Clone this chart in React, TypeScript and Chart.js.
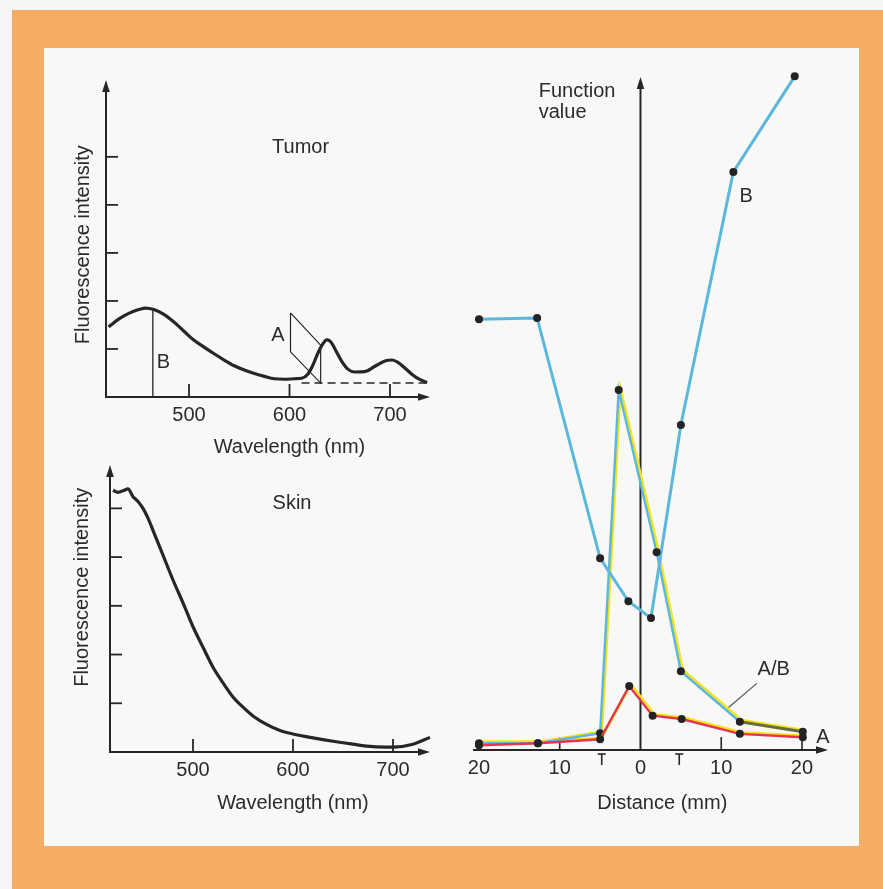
import React, { useEffect, useRef } from "react";
import { Chart, registerables } from "chart.js";

Chart.register(...registerables);

const FONT_FAMILY = "'Liberation Sans', Arial, Helvetica, sans-serif";
const FONT = `20px ${FONT_FAMILY}`;
const INK = "#262626";
const TEXT = "#2b2b2b";
const ORANGE = "#f5ac64";
const PAPER = "#f8f8f7";
const OUTER = "#f6f5f5";
const BLUE = "#5cb7dd";
const YELLOW = "#f2e31c";
const RED = "#e8334e";
const OLIVE = "#676d3e";
const DOT = "#232323";

// ---------- Tumor spectrum ----------
const tumorWavelength = [420, 430, 440, 450, 457, 465, 475, 485, 495, 505, 515, 525, 535, 545, 555, 565, 575, 585, 595, 605, 612, 618, 623, 628, 633, 637, 641, 646, 652, 658, 665, 675, 685, 695, 702, 708, 715, 722, 730, 737];
const tumorIntensity = [1.46, 1.62, 1.74, 1.82, 1.85, 1.82, 1.72, 1.56, 1.37, 1.18, 1.04, 0.9, 0.77, 0.65, 0.56, 0.49, 0.43, 0.38, 0.37, 0.38, 0.39, 0.47, 0.65, 0.9, 1.1, 1.19, 1.15, 0.97, 0.74, 0.58, 0.52, 0.53, 0.64, 0.75, 0.77, 0.72, 0.6, 0.47, 0.36, 0.3];
const tumorBaselineWavelength = [612, 737];
const tumorBaselineLevel = 0.29;
const tumorBWavelength = 464;
const tumorBHeight = 1.82;
const tumorAShapeWavelength = [601, 601, 631, 631, 601];
const tumorAShapeIntensity = [1.75, 0.94, 0.29, 1.08, 1.75];

// ---------- Skin spectrum ----------
const skinWavelength = [420, 425, 430, 435, 440, 445, 450, 455, 460, 470, 480, 490, 500, 510, 520, 530, 540, 550, 560, 574, 587, 600, 620, 640, 660, 680, 700, 720, 737];
const skinIntensity = [5.37, 5.33, 5.36, 5.4, 5.24, 5.14, 5.0, 4.8, 4.55, 4.04, 3.53, 3.06, 2.57, 2.15, 1.74, 1.42, 1.13, 0.92, 0.74, 0.56, 0.44, 0.37, 0.29, 0.22, 0.16, 0.11, 0.1, 0.16, 0.3];

// ---------- Axis ticks ----------
const intensityTicks = [1, 2, 3, 4, 5];
const wavelengthTicks = [500, 600, 700];

// ---------- Function value vs distance ----------
const distB = [-20, -12.8, -5.0, -1.5, 1.3, 5.0, 11.5, 19.1];
const funcB = [64.0, 64.2, 28.5, 22.1, 19.6, 48.3, 85.9, 100.1];
const distAB = [-20, -12.7, -5.0, -2.7, 2.0, 5.0, 12.3, 20.1];
const funcAB = [1.0, 1.0, 2.5, 53.5, 29.4, 11.7, 4.2, 2.7];
const distA = [-20, -12.7, -5.0, -1.4, 1.5, 5.1, 12.3, 20.1];
const funcA = [0.7, 1.0, 1.6, 9.5, 5.1, 4.6, 2.4, 1.9];
const distanceTickValues = [-20, -10, 0, 10, 20];
const distanceTickLabels = ["20", "10", "0", "10", "20"];
const distanceUpTicks = [-10, 10, 20];
const tumorEdges = [-4.8, 4.8];
const leaderDist = [14.4, 10.8];
const leaderFunc = [9.9, 6.2];

function pts(xs: number[], ys: number[]) {
  return xs.map((x, i) => ({ x, y: ys[i] }));
}

function seg(ctx: CanvasRenderingContext2D, x1: number, y1: number, x2: number, y2: number) {
  ctx.beginPath();
  ctx.moveTo(x1, y1);
  ctx.lineTo(x2, y2);
  ctx.stroke();
}
function arrowUp(ctx: CanvasRenderingContext2D, x: number, y: number) {
  ctx.beginPath();
  ctx.moveTo(x, y);
  ctx.lineTo(x - 3.8, y + 12);
  ctx.lineTo(x + 3.8, y + 12);
  ctx.closePath();
  ctx.fill();
}
function arrowRight(ctx: CanvasRenderingContext2D, x: number, y: number) {
  ctx.beginPath();
  ctx.moveTo(x, y);
  ctx.lineTo(x - 12, y - 3.8);
  ctx.lineTo(x - 12, y + 3.8);
  ctx.closePath();
  ctx.fill();
}
function label(ctx: CanvasRenderingContext2D, s: string, x: number, y: number, align: CanvasTextAlign = "center", rotate = false) {
  ctx.save();
  ctx.font = FONT;
  ctx.fillStyle = TEXT;
  ctx.textAlign = align;
  ctx.textBaseline = "middle";
  if (rotate) {
    ctx.translate(x, y);
    ctx.rotate(-Math.PI / 2);
    ctx.fillText(s, 0, 0);
  } else {
    ctx.fillText(s, x, y);
  }
  ctx.restore();
}

function baseOptions(xMin: number, xMax: number, yMax: number, padding: any) {
  return {
    animation: false,
    responsive: false,
    devicePixelRatio: 1,
    events: [],
    layout: { padding },
    scales: {
      x: { type: "linear", min: xMin, max: xMax, display: false },
      y: { type: "linear", min: 0, max: yMax, display: false },
    },
    plugins: { legend: { display: false }, tooltip: { enabled: false } },
  } as any;
}

function spectrumAxes(chart: any, yTicks: number[], xTicks: number[]) {
  const { ctx, chartArea: a, scales } = chart;
  const { x, y } = scales;
  ctx.save();
  ctx.strokeStyle = INK;
  ctx.fillStyle = INK;
  ctx.lineWidth = 2;
  seg(ctx, a.left, a.bottom + 1, a.left, a.top + 8);
  arrowUp(ctx, a.left, a.top);
  seg(ctx, a.left, a.bottom, a.right - 8, a.bottom);
  arrowRight(ctx, a.right, a.bottom);
  ctx.lineWidth = 1.8;
  for (const v of yTicks) {
    const py = y.getPixelForValue(v);
    seg(ctx, a.left, py, a.left + 12, py);
  }
  for (const w of xTicks) {
    const px = x.getPixelForValue(w);
    seg(ctx, px, a.bottom, px, a.bottom - 13);
  }
  ctx.restore();
}

function spectrumLabels(chart: any, xTicks: number[], yTitleOffset: number, yTitleValue: number, titleGap: number) {
  const { ctx, chartArea: a, scales } = chart;
  const { x, y } = scales;
  for (const w of xTicks) label(ctx, String(w), x.getPixelForValue(w), a.bottom + 18);
  label(ctx, "Wavelength (nm)", x.getPixelForValue(600), a.bottom + titleGap);
  label(ctx, "Fluorescence intensity", a.left - yTitleOffset, y.getPixelForValue(yTitleValue), "center", true);
}

function buildTumor(canvas: HTMLCanvasElement) {
  const decor = {
    id: "tumorDecor",
    beforeDatasetsDraw(chart: any) {
      spectrumAxes(chart, intensityTicks, wavelengthTicks);
    },
    afterDatasetsDraw(chart: any) {
      const { ctx, scales } = chart;
      const { x, y } = scales;
      spectrumLabels(chart, wavelengthTicks, 23, 3.17, 50);
      label(ctx, "Tumor", x.getPixelForValue(611), y.getPixelForValue(5.19));
      label(ctx, "B", x.getPixelForValue(474.5), y.getPixelForValue(0.71));
      label(ctx, "A", x.getPixelForValue(588.5), y.getPixelForValue(1.29));
    },
  };
  return new Chart(canvas, {
    type: "line",
    data: {
      datasets: [
        { data: pts(tumorWavelength, tumorIntensity), borderColor: INK, borderWidth: 3.2, pointRadius: 0, cubicInterpolationMode: "monotone", clip: false },
        { data: pts(tumorBaselineWavelength, tumorBaselineWavelength.map(() => tumorBaselineLevel)), borderColor: INK, borderWidth: 1.6, borderDash: [8, 5], pointRadius: 0, tension: 0 },
        { data: pts([tumorBWavelength, tumorBWavelength], [0, tumorBHeight]), borderColor: INK, borderWidth: 1.3, pointRadius: 0, tension: 0 },
        { data: pts(tumorAShapeWavelength, tumorAShapeIntensity), borderColor: INK, borderWidth: 1.2, pointRadius: 0, tension: 0 },
      ],
    },
    options: baseOptions(417.4, 739.8, 6.6, { left: 56, right: 20, top: 20, bottom: 63 }),
    plugins: [decor],
  } as any);
}

function buildSkin(canvas: HTMLCanvasElement) {
  const decor = {
    id: "skinDecor",
    beforeDatasetsDraw(chart: any) {
      spectrumAxes(chart, intensityTicks, wavelengthTicks);
    },
    afterDatasetsDraw(chart: any) {
      const { ctx, scales } = chart;
      const { x, y } = scales;
      spectrumLabels(chart, wavelengthTicks, 28, 3.38, 51);
      label(ctx, "Skin", x.getPixelForValue(599), y.getPixelForValue(5.1));
    },
  };
  return new Chart(canvas, {
    type: "line",
    data: {
      datasets: [
        { data: pts(skinWavelength, skinIntensity), borderColor: INK, borderWidth: 3.2, pointRadius: 0, cubicInterpolationMode: "monotone", clip: false },
      ],
    },
    options: baseOptions(417, 737, 5.89, { left: 60, right: 20, top: 15, bottom: 88 }),
    plugins: [decor],
  } as any);
}

function buildFunction(canvas: HTMLCanvasElement) {
  const decor = {
    id: "functionDecor",
    beforeDatasetsDraw(chart: any) {
      const { ctx, chartArea: a, scales } = chart;
      const { x } = scales;
      ctx.save();
      ctx.strokeStyle = INK;
      ctx.fillStyle = INK;
      ctx.lineWidth = 2;
      const x0 = x.getPixelForValue(0);
      seg(ctx, x0, a.bottom, x0, a.top + 8);
      arrowUp(ctx, x0, a.top);
      seg(ctx, a.left, a.bottom, a.right - 8, a.bottom);
      arrowRight(ctx, a.right, a.bottom);
      ctx.lineWidth = 1.6;
      for (const d of distanceUpTicks) {
        const px = x.getPixelForValue(d);
        seg(ctx, px, a.bottom, px, a.bottom - 13);
      }
      for (const d of tumorEdges) {
        const px = x.getPixelForValue(d);
        seg(ctx, px - 4, a.bottom + 4, px + 4, a.bottom + 4);
        seg(ctx, px, a.bottom + 4, px, a.bottom + 15);
      }
      ctx.restore();
    },
    beforeDatasetDraw(chart: any, args: any) {
      if (args.index === 3 || args.index === 4) {
        chart.ctx.save();
        chart.ctx.translate(1.8, -1.6);
      }
    },
    afterDatasetDraw(chart: any, args: any) {
      if (args.index === 3 || args.index === 4) chart.ctx.restore();
    },
    afterDatasetsDraw(chart: any) {
      const { ctx, chartArea: a, scales } = chart;
      const { x, y } = scales;
      distanceTickValues.forEach((d, i) => label(ctx, distanceTickLabels[i], x.getPixelForValue(d), a.bottom + 18));
      label(ctx, "Distance (mm)", x.getPixelForValue(2.7), a.bottom + 53);
      label(ctx, "Function", x.getPixelForValue(-12.6), y.getPixelForValue(97.8), "left");
      label(ctx, "value", x.getPixelForValue(-12.6), y.getPixelForValue(94.7), "left");
      label(ctx, "B", x.getPixelForValue(13.1), y.getPixelForValue(82.3));
      label(ctx, "A/B", x.getPixelForValue(16.5), y.getPixelForValue(11.9));
      label(ctx, "A", x.getPixelForValue(22.6), y.getPixelForValue(1.9));
    },
  };
  const dots = { pointRadius: 4, pointBackgroundColor: DOT, pointBorderColor: DOT, pointBorderWidth: 0 };
  return new Chart(canvas, {
    type: "line",
    data: {
      datasets: [
        { data: pts(distA, funcA), borderColor: RED, borderWidth: 2.4, tension: 0, clip: false, ...dots },
        {
          data: pts(distAB, funcAB), borderColor: BLUE, borderWidth: 2.4, tension: 0, clip: false, ...dots,
          segment: { borderColor: (c: any) => (c.p0DataIndex >= 6 ? OLIVE : BLUE), borderWidth: (c: any) => (c.p0DataIndex >= 6 ? 3 : 2.4) },
        },
        { data: pts(distB, funcB), borderColor: BLUE, borderWidth: 3, tension: 0, clip: false, ...dots },
        { data: pts(distA, funcA), borderColor: YELLOW, borderWidth: 2.4, tension: 0, clip: false, pointRadius: 0 },
        { data: pts(distAB, funcAB), borderColor: YELLOW, borderWidth: 2.6, tension: 0, clip: false, pointRadius: 0 },
        { data: pts(leaderDist, leaderFunc), borderColor: "#555555", borderWidth: 1.2, tension: 0, pointRadius: 0 },
      ],
    },
    options: baseOptions(-20.74, 23.22, 100, { left: 13, right: 32, top: 17, bottom: 80 }),
    plugins: [decor],
  } as any);
}

function ChartBox(props: { left: number; top: number; width: number; height: number; build: (c: HTMLCanvasElement) => Chart }) {
  const ref = useRef<HTMLCanvasElement>(null);
  useEffect(() => {
    const chart = props.build(ref.current as HTMLCanvasElement);
    return () => chart.destroy();
  }, []);
  return (
    <div style={{ position: "absolute", left: props.left, top: props.top, width: props.width, height: props.height }}>
      <canvas ref={ref} width={props.width} height={props.height} style={{ width: props.width, height: props.height, display: "block" }} />
    </div>
  );
}

export default function App() {
  return (
    <div style={{ position: "absolute", left: 0, top: 0, width: 883, height: 889, background: OUTER, overflow: "hidden" }}>
      <div style={{ position: "absolute", left: 12, top: 10, width: 871, height: 879, background: ORANGE }} />
      <div style={{ position: "absolute", left: 44, top: 48, width: 815, height: 798, background: PAPER }} />
      <ChartBox left={50} top={60} width={400} height={400} build={buildTumor} />
      <ChartBox left={50} top={450} width={400} height={390} build={buildSkin} />
      <ChartBox left={460} top={60} width={400} height={770} build={buildFunction} />
    </div>
  );
}
